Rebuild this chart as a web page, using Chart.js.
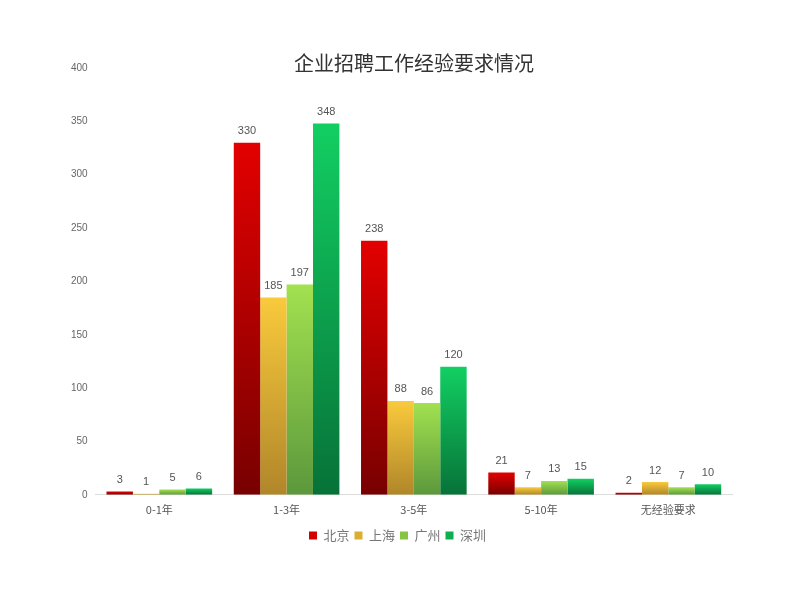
<!DOCTYPE html>
<html>
<head>
<meta charset="utf-8">
<script src="https://cdn.jsdelivr.net/npm/chart.js@4"></script>
<style>
  body { margin: 0; background: #fff; }
  canvas { display: block; }
</style>
</head>
<body>
<canvas id="chart" width="800" height="600"></canvas>
<script>
var categories = ["0-1年", "1-3年", "3-5年", "5-10年", "无经验要求"];
var cities = ["北京", "上海", "广州", "深圳"];
var beijing = [3, 330, 238, 21, 2];
var shanghai = [1, 185, 88, 7, 12];
var guangzhou = [5, 197, 86, 13, 7];
var shenzhen = [6, 348, 120, 15, 10];
var yTicks = [0, 50, 100, 150, 200, 250, 300, 350, 400];

// top colour, bottom colour, legend colour
var palette = [
  ["#e30000", "#780000", "#d40000"],
  ["#f9ca3c", "#b0862a", "#dcae30"],
  ["#a2e150", "#5c983c", "#86c444"],
  ["#12cf62", "#077238", "#10ae52"]
];

var barGradient = function(idx) {
  return function(context) {
    var chart = context.chart;
    if (!chart.chartArea || context.type !== "data") return palette[idx][2];
    var y = chart.scales.y;
    var top = y.getPixelForValue(context.raw);
    var base = y.getPixelForValue(0);
    if (!isFinite(top) || base - top < 1) return palette[idx][0];
    var g = chart.ctx.createLinearGradient(0, top, 0, base);
    g.addColorStop(0, palette[idx][0]);
    g.addColorStop(1, palette[idx][1]);
    return g;
  };
};

var series = [beijing, shanghai, guangzhou, shenzhen];

var labelPlugin = {
  id: "barLabels",
  afterDatasetsDraw: function(chart) {
    var ctx = chart.ctx;
    ctx.save();
    ctx.font = "11px 'Liberation Sans', Arial, sans-serif";
    ctx.fillStyle = "#555";
    ctx.textAlign = "center";
    ctx.textBaseline = "bottom";
    chart.data.datasets.forEach(function(ds, i) {
      chart.getDatasetMeta(i).data.forEach(function(bar, j) {
        ctx.fillText(ds.data[j], bar.x, bar.y - 6);
      });
    });
    ctx.restore();
  }
};

var titlePlugin = {
  id: "fixedTitle",
  afterDraw: function(chart) {
    var ctx = chart.ctx;
    ctx.save();
    ctx.font = "20px 'Noto Sans CJK SC', sans-serif";
    ctx.fillStyle = "#333";
    ctx.textAlign = "center";
    ctx.textBaseline = "middle";
    ctx.fillText("企业招聘工作经验要求情况", 414, 63);
    ctx.restore();
  }
};

var ctx = document.getElementById("chart").getContext("2d");
var myChart = new Chart(ctx, {
  type: "bar",
  data: {
    labels: categories,
    datasets: cities.map(function(name, i) {
      return {
        label: name,
        data: series[i],
        backgroundColor: barGradient(i),
        borderWidth: 0
      };
    })
  },
  options: {
    responsive: false,
    animation: false,
    layout: { padding: { top: 68, bottom: 48, left: 63, right: 68 } },
    datasets: { bar: { categoryPercentage: 0.83, barPercentage: 1 } },
    scales: {
      x: {
        grid: { display: false, drawTicks: false },
        border: { color: "#ddd" },
        ticks: {
          color: "#555",
          padding: 8,
          font: { size: 11, family: "'Noto Sans CJK SC', sans-serif" }
        }
      },
      y: {
        min: 0,
        max: 400,
        afterBuildTicks: function(axis) {
          axis.ticks = yTicks.map(function(v) { return { value: v }; });
        },
        grid: { display: false, drawTicks: false },
        border: { display: false },
        ticks: {
          color: "#666",
          padding: 8,
          font: { size: 10, family: "'Liberation Sans', Arial, sans-serif" }
        }
      }
    },
    plugins: {
      title: { display: false },
      tooltip: { enabled: false },
      legend: {
        position: "bottom",
        labels: {
          boxWidth: 8,
          boxHeight: 8,
          padding: 5,
          color: "#777",
          font: { size: 13, family: "'Noto Sans CJK SC', sans-serif" },
          generateLabels: function(chart) {
            return chart.data.datasets.map(function(ds, i) {
              return {
                text: ds.label,
                fillStyle: palette[i][2],
                strokeStyle: palette[i][2],
                fontColor: "#777",
                lineWidth: 0,
                datasetIndex: i,
                hidden: false
              };
            });
          }
        }
      }
    }
  },
  plugins: [labelPlugin, titlePlugin]
});
</script>
</body>
</html>
